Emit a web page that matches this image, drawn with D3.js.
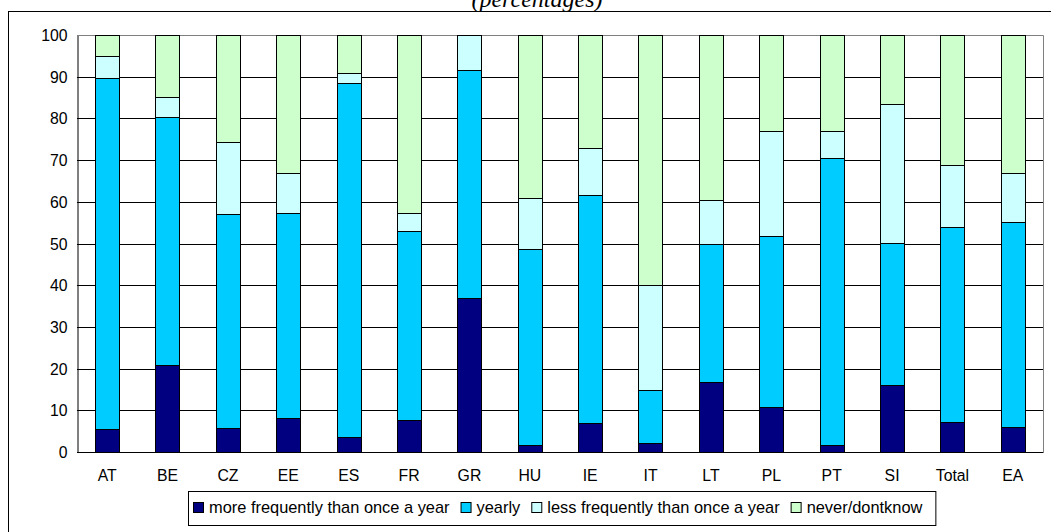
<!DOCTYPE html>
<html>
<head>
<meta charset="utf-8">
<script src="https://cdn.jsdelivr.net/npm/d3@7"></script>
<style>
  body { margin: 0; background: #fff; }
  svg { display: block; }
</style>
</head>
<body>
<div class="canvas"></div>
<script>
// Data (percentages)
const countries = ['AT', 'BE', 'CZ', 'EE', 'ES', 'FR', 'GR', 'HU', 'IE', 'IT', 'LT', 'PL', 'PT', 'SI', 'Total', 'EA'];
const moreFrequently = [5.4, 20.8, 5.7, 8.1, 3.5, 7.7, 37.0, 1.6, 6.9, 2.1, 16.8, 10.7, 1.7, 16.0, 7.3, 6.1];
const yearly         = [84.3, 59.6, 51.3, 49.2, 85.1, 45.2, 54.6, 47.1, 54.7, 12.7, 33.0, 41.1, 68.9, 34.2, 46.7, 49.0];
const lessFrequently = [5.3, 4.8, 17.3, 9.7, 2.3, 4.5, 8.4, 12.1, 11.3, 25.2, 10.7, 25.1, 6.3, 33.3, 14.8, 11.8];
const neverDontknow  = [5.0, 14.8, 25.7, 33.0, 9.1, 42.6, 0.0, 39.2, 27.1, 60.0, 39.5, 23.1, 23.1, 16.5, 31.2, 33.1];
const seriesNames = ['more frequently than once a year', 'yearly', 'less frequently than once a year', 'never/dontknow'];
const yTicks = [0, 10, 20, 30, 40, 50, 60, 70, 80, 90, 100];

const colors = ['#000080', '#00ccff', '#ccffff', '#ccffcc'];

const svgWidth = 1051;
const svgHeight = 532;
const plot = { left: 77, right: 1043, top: 35, bottom: 452 };

const svg = d3.select('.canvas')
    .append('svg')
        .attr('width', svgWidth)
        .attr('height', svgHeight);

// outer frame (right and bottom run off the picture)
svg.append('rect')
    .attr('x', 8.5)
    .attr('y', 11.5)
    .attr('width', 1100)
    .attr('height', 600)
    .attr('fill', 'none')
    .attr('stroke', '#000');

// title, mostly cut off at the top as in the source
svg.append('text')
    .attr('x', 537)
    .attr('y', 7)
    .attr('text-anchor', 'middle')
    .attr('font-family', '"Liberation Serif", "Times New Roman", serif')
    .attr('font-style', 'italic')
    .attr('font-size', 24)
    .text('(percentages)');

// build table for stacking
const table = countries.map((c, i) => ({
    country: c,
    s0: moreFrequently[i],
    s1: yearly[i],
    s2: lessFrequently[i],
    s3: neverDontknow[i]
}));
const keys = ['s0', 's1', 's2', 's3'];
const stacked = d3.stack().keys(keys)(table);

// scales
const x = d3.scaleBand()
    .domain(countries)
    .range([plot.left, plot.right])
    .paddingInner(0.6)
    .paddingOuter(0.3);
const y = d3.scaleLinear()
    .domain([0, 100])
    .range([plot.bottom, plot.top]);

// gridlines
svg.append('g')
    .attr('class', 'grid')
    .selectAll('line')
    .data(yTicks.filter(d => d > 0 && d < 100))
    .join('line')
        .attr('x1', plot.left)
        .attr('x2', plot.right)
        .attr('y1', d => Math.round(y(d)) + 0.5)
        .attr('y2', d => Math.round(y(d)) + 0.5)
        .attr('stroke', '#000');

// plot area border top/right (grey)
svg.append('path')
    .attr('d', `M${plot.left},${Math.round(y(100)) + 0.5}H${plot.right + 0.5}V${plot.bottom}`)
    .attr('fill', 'none')
    .attr('stroke', '#808080');

// bars
svg.append('g')
    .selectAll('g')
    .data(stacked)
    .join('g')
        .attr('fill', (d, i) => colors[i])
    .selectAll('rect')
    .data(d => d.filter(s => s[1] - s[0] > 0))
    .join('rect')
        .attr('x', d => Math.round(x(d.data.country)) + 0.5)
        .attr('y', d => Math.round(y(d[1])) + 0.5)
        .attr('width', Math.round(x.bandwidth()))
        .attr('height', d => Math.round(y(d[0])) - Math.round(y(d[1])))
        .attr('stroke', '#000')
        .attr('stroke-width', 1);

// axes
const yAxis = d3.axisLeft(y)
    .tickValues(yTicks)
    .tickSize(0)
    .tickPadding(10);
const yAxisGroup = svg.append('g')
    .attr('class', 'y-axis')
    .attr('transform', `translate(${plot.left + 0.5}, 0.5)`)
    .call(yAxis);
yAxisGroup.select('.domain').attr('stroke', '#000');

const xAxis = d3.axisBottom(x)
    .tickSize(0)
    .tickPadding(17);
const xAxisGroup = svg.append('g')
    .attr('class', 'x-axis')
    .attr('transform', `translate(0, ${plot.bottom + 0.5})`)
    .call(xAxis);
xAxisGroup.select('.domain')
    .attr('d', `M${plot.left},0H${plot.right + 0.5}`)
    .attr('stroke', '#000');

svg.selectAll('.tick text')
    .attr('font-family', '"Liberation Sans", Arial, sans-serif')
    .attr('font-size', 15.8)
    .attr('fill', '#000');

// legend
const legend = svg.append('g').attr('class', 'legend');
const legendBox = legend.append('rect')
    .attr('x', 188.5)
    .attr('y', 491.5)
    .attr('height', 34)
    .attr('fill', '#fff')
    .attr('stroke', '#000');

let lx = 193;
seriesNames.forEach((name, i) => {
    legend.append('rect')
        .attr('x', lx + 0.5)
        .attr('y', 502.5)
        .attr('width', 10)
        .attr('height', 10)
        .attr('fill', colors[i])
        .attr('stroke', '#000');
    const t = legend.append('text')
        .attr('x', lx + 16)
        .attr('y', 513)
        .attr('font-family', '"Liberation Sans", Arial, sans-serif')
        .attr('font-size', 16.4)
        .text(name);
    lx += 16 + t.node().getComputedTextLength() + 11;
});
legendBox.attr('width', lx - 188 + 2);
</script>
</body>
</html>
